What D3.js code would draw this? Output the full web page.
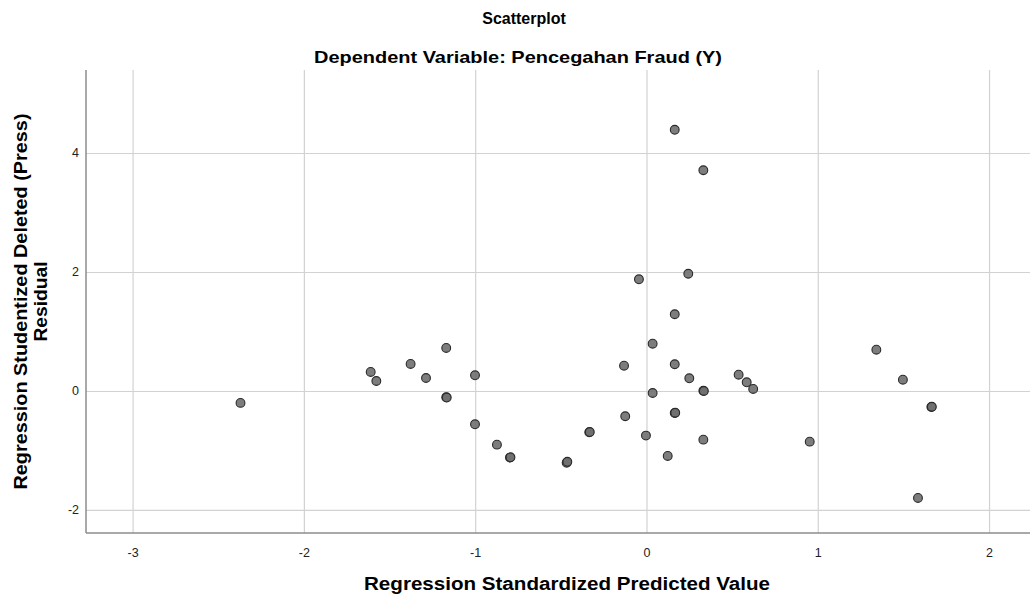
<!DOCTYPE html>
<html>
<head>
<meta charset="utf-8">
<script src="https://cdn.jsdelivr.net/npm/d3@7"></script>
<style>
    body { margin: 0; background: #fff; }
    #chart { width: 1030px; height: 597px; }
    text { font-family: Arial, "Liberation Sans", sans-serif; }
</style>
</head>
<body>
<div id="chart"></div>
<script>
// predicted values (x) and studentized deleted residuals (y)
let predicted = [-2.37, -1.61, -1.577, -1.377, -1.287, -1.169, -1.001, -1.169, -1.166, -1.001,
    -0.873, -0.797, -0.794, -0.466, -0.462, -0.334, -0.331, -0.131, -0.124, -0.044,
    -0.003, 0.036, 0.036, 0.124, 0.165, 0.165, 0.165, 0.165, 0.168, 0.244,
    0.25, 0.332, 0.332, 0.335, 0.332, 0.538, 0.585, 0.623, 0.953, 1.342,
    1.497, 1.663, 1.666, 1.585];
let residual = [-0.2, 0.32, 0.168, 0.454, 0.218, 0.723, 0.264, -0.106, -0.11, -0.56,
    -0.902, -1.12, -1.115, -1.205, -1.19, -0.694, -0.69, 0.425, -0.425, 1.877,
    -0.75, 0.795, -0.034, -1.092, 4.39, 1.29, 0.449, -0.37, -0.366, 1.97,
    0.213, 3.71, 0.005, 0.0, -0.818, 0.274, 0.146, 0.034, -0.852, 0.694,
    0.19, -0.269, -0.265, -1.798];

let xTicks = [-3, -2, -1, 0, 1, 2];
let yTicks = [-2, 0, 2, 4];

let title = 'Scatterplot';
let subtitle = 'Dependent Variable: Pencegahan Fraud (Y)';
let xTitle = 'Regression Standardized Predicted Value';
let yTitle = ['Regression Studentized Deleted (Press)', 'Residual'];

function drawScatter() {
    let width = 1030;
    let height = 597;
    let plot = {left: 86, right: 1030, top: 70, bottom: 533};

    let svg = d3.select('#chart').append('svg')
        .attr('width', width)
        .attr('height', height);

    let x = d3.scaleLinear()
        .domain([-3.272, 2.239])
        .range([plot.left, plot.right]);

    let y = d3.scaleLinear()
        .domain([-2.387, 5.395])
        .range([plot.bottom, plot.top]);

    // plain hyphen like the original, not the unicode minus
    let fmt = function (d) { return String(d); };

    // grid lines
    svg.append('g')
        .attr('transform', 'translate(0,' + plot.bottom + ')')
        .call(d3.axisBottom(x).tickValues(xTicks).tickSize(-(plot.bottom - plot.top)).tickFormat(''))
        .call(g => g.select('.domain').remove())
        .selectAll('line')
        .attr('stroke', '#d2d2d2')
        .attr('stroke-width', 1.2);

    svg.append('g')
        .attr('transform', 'translate(' + plot.left + ',0)')
        .call(d3.axisLeft(y).tickValues(yTicks).tickSize(-(plot.right - plot.left)).tickFormat(''))
        .call(g => g.select('.domain').remove())
        .selectAll('line')
        .attr('stroke', '#d2d2d2')
        .attr('stroke-width', 1.2);

    // axis lines, left and bottom only
    svg.append('line')
        .attr('x1', plot.left).attr('x2', plot.left)
        .attr('y1', plot.top).attr('y2', plot.bottom)
        .attr('stroke', '#8c8c8c')
        .attr('stroke-width', 1.5);
    svg.append('line')
        .attr('x1', plot.left).attr('x2', plot.right)
        .attr('y1', plot.bottom).attr('y2', plot.bottom)
        .attr('stroke', '#8c8c8c')
        .attr('stroke-width', 1.5);

    // tick labels
    let xAxis = svg.append('g')
        .attr('transform', 'translate(0,' + plot.bottom + ')')
        .call(d3.axisBottom(x).tickValues(xTicks).tickSize(0).tickPadding(15).tickFormat(fmt));
    xAxis.select('.domain').remove();
    xAxis.selectAll('text')
        .attr('font-size', 12.5)
        .attr('fill', '#222');

    let yAxis = svg.append('g')
        .attr('transform', 'translate(' + plot.left + ',0)')
        .call(d3.axisLeft(y).tickValues(yTicks).tickSize(0).tickPadding(7).tickFormat(fmt));
    yAxis.select('.domain').remove();
    yAxis.selectAll('text')
        .attr('font-size', 12.5)
        .attr('fill', '#222');

    // points
    let points = predicted.map(function (d, i) {
        return {x: d, y: residual[i]};
    });

    svg.selectAll('.dot')
        .data(points)
        .enter().append('circle')
        .attr('class', 'dot')
        .attr('cx', function (d) { return x(d.x); })
        .attr('cy', function (d) { return y(d.y); })
        .attr('r', 4.4)
        .attr('fill', '#6f6f6f')
        .attr('fill-opacity', 0.9)
        .attr('stroke', '#2a2a2a')
        .attr('stroke-width', 1.1);

    // titles (textLength keeps the stretched look of the original)
    svg.append('text')
        .attr('x', 524).attr('y', 24)
        .attr('text-anchor', 'middle')
        .attr('font-size', 16)
        .attr('font-weight', 'bold')
        .text(title);

    svg.append('text')
        .attr('x', 518).attr('y', 63)
        .attr('text-anchor', 'middle')
        .attr('font-size', 17)
        .attr('font-weight', 'bold')
        .attr('textLength', 408)
        .attr('lengthAdjust', 'spacingAndGlyphs')
        .text(subtitle);

    svg.append('text')
        .attr('x', 567).attr('y', 590)
        .attr('text-anchor', 'middle')
        .attr('font-size', 18)
        .attr('font-weight', 'bold')
        .attr('textLength', 406)
        .attr('lengthAdjust', 'spacingAndGlyphs')
        .text(xTitle);

    let yMid = (plot.top + plot.bottom) / 2;
    let yLengths = [376, 80];
    yTitle.forEach(function (line, i) {
        svg.append('text')
            .attr('transform', 'translate(' + (27 + i * 20) + ',' + yMid + ') rotate(-90)')
            .attr('text-anchor', 'middle')
            .attr('font-size', 18)
            .attr('font-weight', 'bold')
            .attr('textLength', yLengths[i])
            .attr('lengthAdjust', 'spacingAndGlyphs')
            .text(line);
    });
}

drawScatter();
</script>
</body>
</html>
